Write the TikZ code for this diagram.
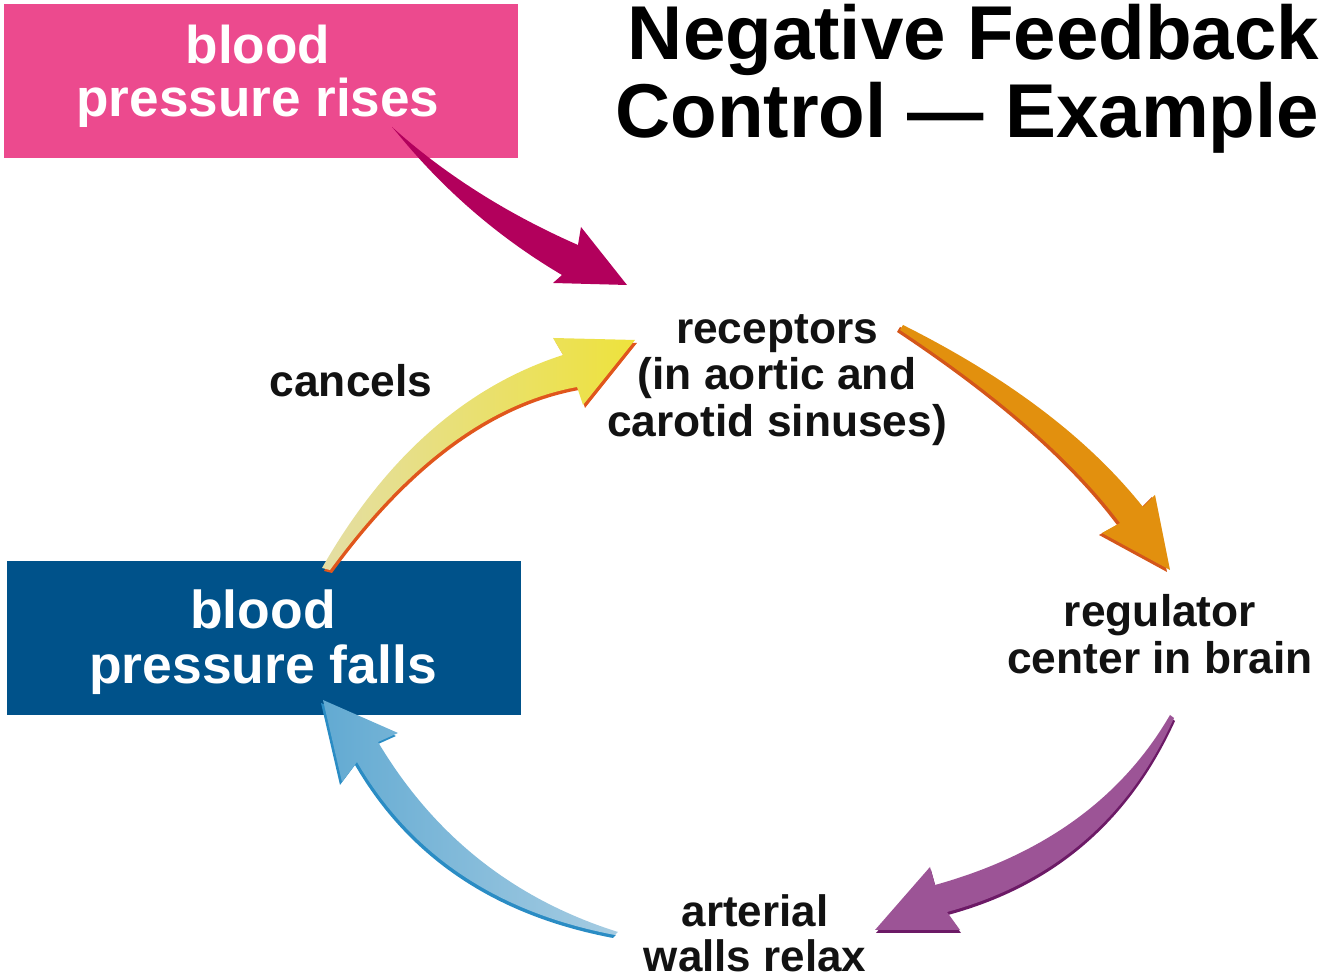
\documentclass[tikz,border=0pt]{standalone}
\usepackage{fontspec}
\setmainfont{Liberation Sans}
\definecolor{risepink}{HTML}{EC4A8E}
\definecolor{fallblue}{HTML}{00528A}
\definecolor{risearrow}{HTML}{B2005C}
\definecolor{cancelyellow}{HTML}{EEE23C}
\definecolor{cancelpale}{HTML}{E4DEA4}
\definecolor{cancelred}{HTML}{E0561C}
\definecolor{sensorange}{HTML}{E2900E}
\definecolor{sensred}{HTML}{D4561A}
\definecolor{relaxpurple}{HTML}{9C5496}
\definecolor{relaxdark}{HTML}{6C1A66}
\definecolor{fallpale}{HTML}{A6CCE2}
\definecolor{fallmid}{HTML}{62AAD2}
\definecolor{falledge}{HTML}{2A8CC4}

% arrow outlines, in pixel units
\newcommand{\risepath}{(392,127) .. controls (444.7,174.3) and (506.7,213.7) .. (578,245) -- (581,227) -- (627,285) -- (553,283) -- (562,275) .. controls (499.3,238) and (444.7,191) .. (398,134) -- cycle}
\newcommand{\cancelpath}{(322,568) .. controls (385.3,457.3) and (465.7,386.3) .. (563,355) -- (553,338) -- (635,340) -- (583,405) -- (577,387) .. controls (489.7,403) and (407.3,464) .. (330,570) -- cycle}
\newcommand{\senspath}{(903,325) .. controls (1008.3,377.7) and (1088.3,438.3) .. (1143,507) -- (1155,495) -- (1170,570) -- (1102,533) -- (1120,523) .. controls (1073.3,460.7) and (1000,396.3) .. (900,330) -- cycle}
\newcommand{\relaxpath}{(1170,715) .. controls (1121.7,798.3) and (1043.3,855) .. (935,885) -- (930,867) -- (875,930) -- (960,930) -- (947,912) .. controls (1052.7,883.3) and (1128.3,818.7) .. (1174,718) -- cycle}
\newcommand{\fallpath}{(618,932) .. controls (514,899.3) and (434,836) .. (378,742) -- (398,733) -- (323,700) -- (342,782) -- (357,762) .. controls (411,855) and (497,912.7) .. (615,935) -- cycle}

\begin{document}
\begin{tikzpicture}[x=0.01cm,y=-0.01cm,
	lbl/.style={font=\bfseries\fontsize{12.6}{13.3}\selectfont, align=center, inner sep=0pt, text=black!93},
	bpbox/.style={minimum width=5.13cm, minimum height=1.53cm, inner sep=0pt},
	boxtext/.style={align=center, inner sep=0pt, text=white},
	headline/.style={font=\bfseries\fontsize{21.7}{22.7}\selectfont, anchor=base east, inner sep=0pt}]
	\useasboundingbox (0,0) rectangle (1320,980);
	
	% boxes
	\node[bpbox, fill=risepink] (rise) at (261,81) {};
	\node[boxtext, font=\bfseries\fontsize{15.1}{15}\selectfont] (risetext) at (258,76) {blood\\pressure rises};
	\node[bpbox, fill=fallblue] (fall) at (264,638) {};
	\node[boxtext, font=\bfseries\fontsize{15.2}{15.6}\selectfont] (falltext) at (263,642) {blood\\pressure falls};
	
	% title
	\node[headline] (title1) at (1320,60) {Negative Feedback};
	\node[headline] (title2) at (1320,138) {Control — Example};
	
	% labels
	\node[lbl] (receptors) at (777,380) {receptors\\(in aortic and\\carotid sinuses)};
	\node[lbl] (regulator) at (1160,634) {regulator\\center in brain};
	\node[lbl, font=\bfseries\fontsize{12.5}{12.8}\selectfont] (walls) at (755,933) {arterial\\walls relax};
	\node[lbl] (cancels) at (351,381) {cancels};
	
	% arrows
	\fill[risearrow] \risepath;
	
	\fill[cancelred, shift={(2,3)}] \cancelpath;
	\shade[left color=cancelpale, right color=cancelyellow] \cancelpath;
	
	\fill[sensred, shift={(-3,2)}] \senspath;
	\fill[sensorange] \senspath;
	
	\fill[relaxdark, shift={(1,3)}] \relaxpath;
	\fill[relaxpurple] \relaxpath;
	
	\fill[falledge, shift={(-2,3)}] \fallpath;
	\shade[left color=fallmid, right color=fallpale] \fallpath;
\end{tikzpicture}
\end{document}
